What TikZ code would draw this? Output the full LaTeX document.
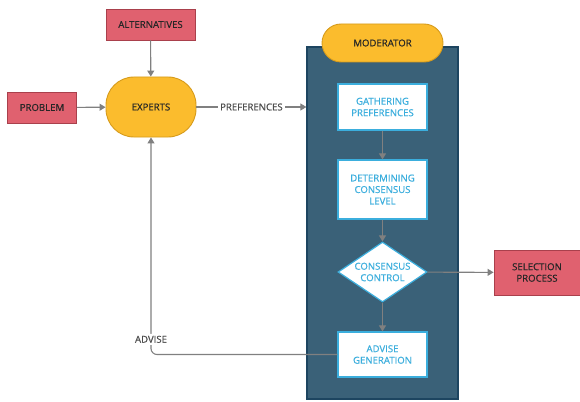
\documentclass[tikz,border=0pt]{standalone}
\usepackage{fontspec}
\setmainfont{Open Sans}[FakeBold=0.6]
\usetikzlibrary{positioning,shapes.geometric,arrows.meta}
\definecolor{inputred}{HTML}{E0616F}
\definecolor{inputredline}{HTML}{A9404C}
\definecolor{actoryellow}{HTML}{FBBC2D}
\definecolor{actoryellowline}{HTML}{D69B1C}
\definecolor{panelblue}{HTML}{3A6178}
\definecolor{panelblueline}{HTML}{1D4560}
\definecolor{stepblue}{HTML}{3BAEDD}
\colorlet{flowgray}{black!50}

\begin{document}
\begin{tikzpicture}[x=1pt, y=-1pt, >={Triangle[width=7pt,length=6pt]},
    font=\fontsize{9.6}{11.5}\selectfont,
    inputbox/.style={draw=inputredline, fill=inputred, line width=0.9pt,
      text=black!85, align=center, inner sep=0pt},
    actor/.style={draw=actoryellowline, fill=actoryellow, line width=0.9pt,
      text=black!85, inner sep=0pt},
    stepbox/.style={draw=stepblue, fill=white, line width=1.2pt, text=stepblue,
      align=center, minimum width=89pt, inner sep=0pt},
    flow/.style={draw=flowgray, line width=1.1pt},
    flowlabel/.style={fill=white, text=black!70, inner sep=2pt}]
  \useasboundingbox (0,0) rectangle (580,401);

  % inputs and the experts
  \node[inputbox, minimum width=89pt, minimum height=31pt] (alt) at (150.5,24.5) {ALTERNATIVES};
  \node[inputbox, minimum width=69pt, minimum height=31pt] (prob) at (42,107.5) {PROBLEM};
  \node[actor, rounded corners=28pt, minimum width=90pt, minimum height=60pt] (exp) at (151,107) {EXPERTS};

  % moderator panel
  \node[draw=panelblueline, fill=panelblue, line width=1.2pt, minimum width=151pt,
    minimum height=352pt, inner sep=0pt] (mod) at (382.5,223) {};
  \node[actor, rounded corners=19pt, minimum width=121pt, minimum height=38pt] (modhead) at (382.5,43) {MODERATOR};

  \node[stepbox, minimum height=46pt] (gather) at (382.5,107) {GATHERING\\PREFERENCES};
  \node[stepbox, minimum height=59pt] (level) at (382.5,189.5) {DETERMINING\\CONSENSUS\\LEVEL};
  \node[stepbox, diamond, aspect=1.5, inner sep=-3pt, minimum width=89pt, minimum height=60pt] (ctrl) at (382.5,272) {CONSENSUS\\CONTROL};
  \node[stepbox, minimum height=45pt] (advgen) at (382.5,354.5) {ADVISE\\GENERATION};

  \node[inputbox, minimum width=86pt, minimum height=45pt] (sel) at (537,272.5) {SELECTION\\PROCESS};

  % connectors
  \draw[flow, ->] (alt) -- (exp);
  \draw[flow, ->] (prob) -- (exp);
  \draw[flow, ->] (exp.east) -- node[flowlabel] {PREFERENCES} (mod.west |- exp.east);
  \draw[flow, ->] (gather) -- (level);
  \draw[flow, ->] (level) -- (ctrl);
  \draw[flow, ->] (ctrl) -- (advgen);
  \draw[flow, ->] (ctrl) -- (sel);
  \draw[flow, ->, rounded corners=6pt] (advgen.west) -| node[flowlabel, pos=0.535] {ADVISE} (exp.south);
\end{tikzpicture}
\end{document}
